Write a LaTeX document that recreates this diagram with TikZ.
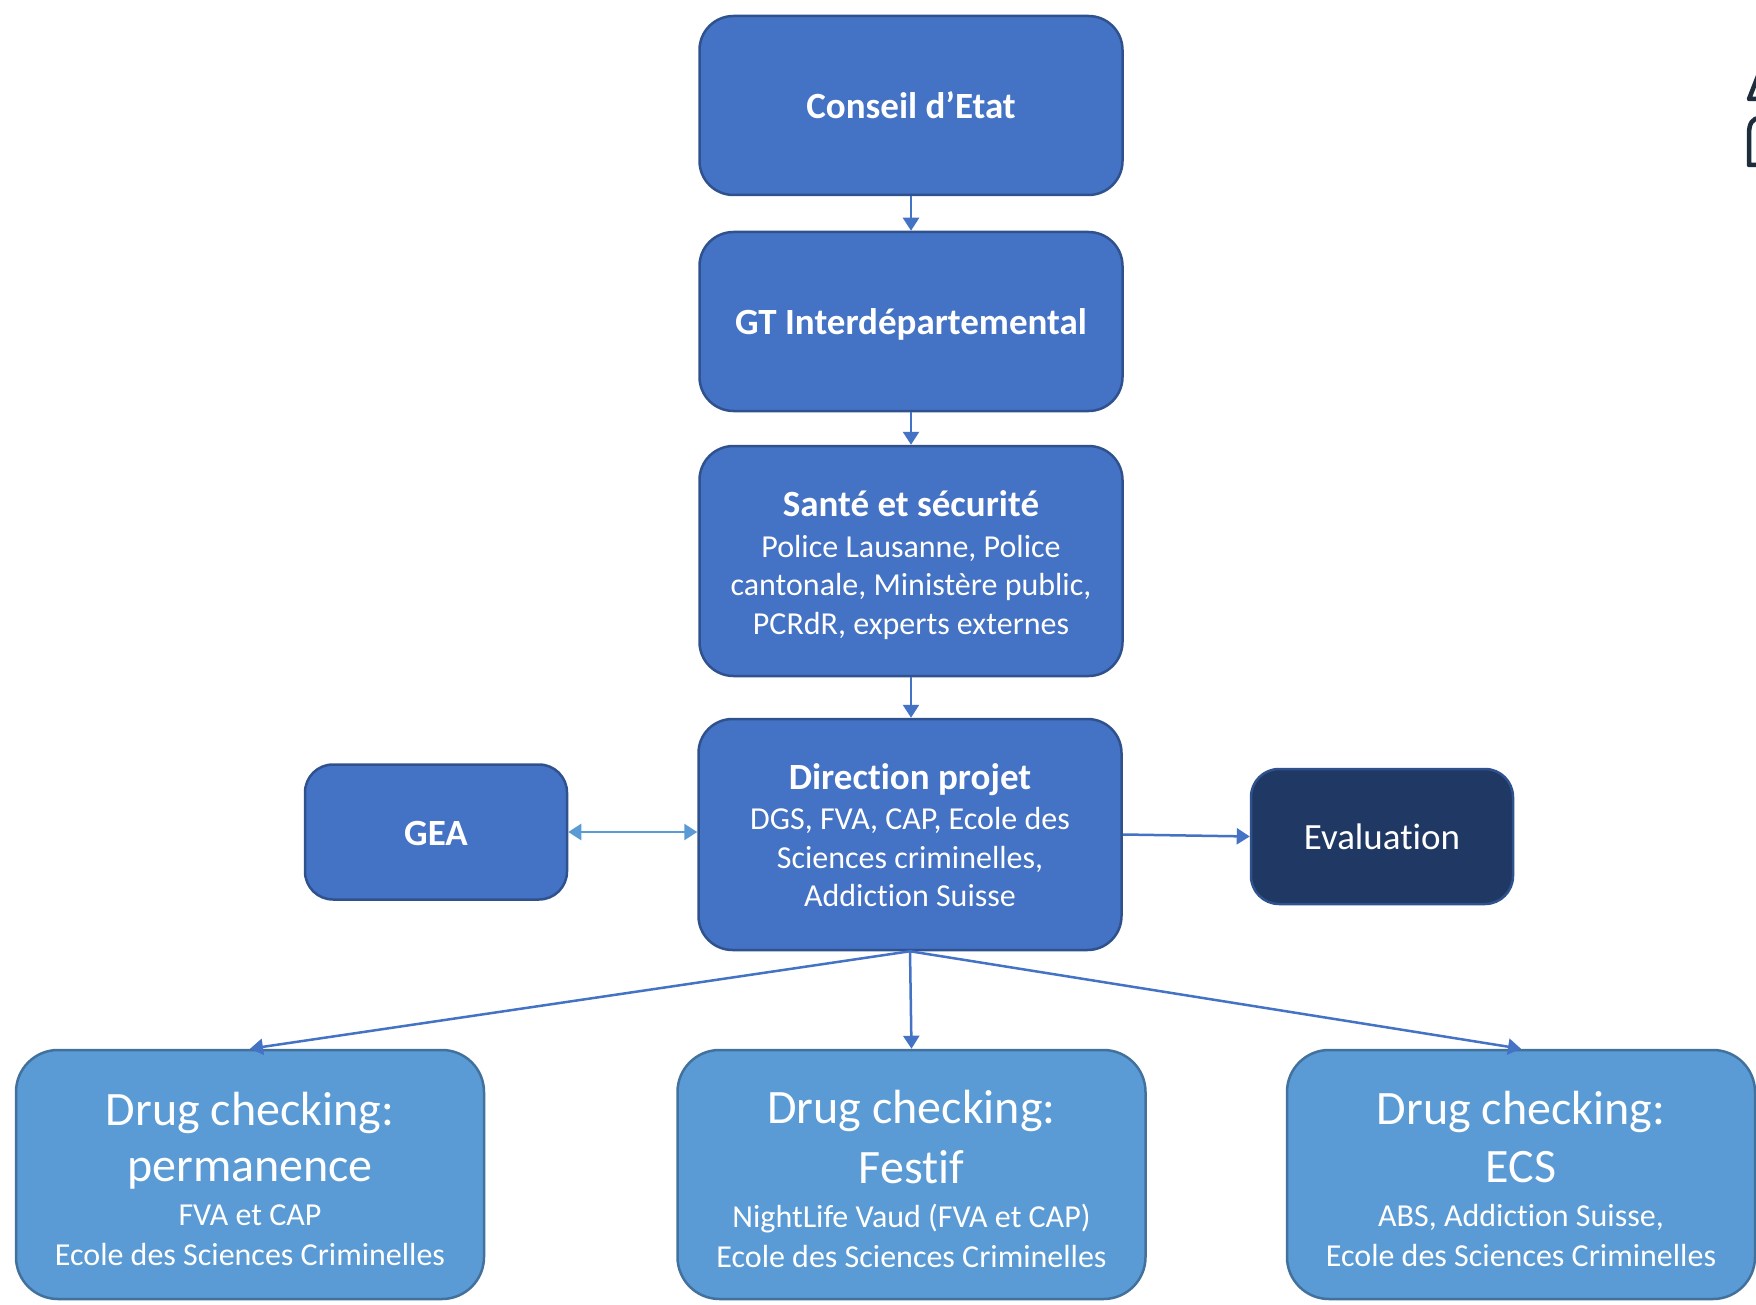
\documentclass[tikz,border=0pt]{standalone}
\usepackage{fontspec}
\setmainfont{Carlito}[Ligatures={NoCommon}]
\usetikzlibrary{arrows.meta}
\definecolor{accA}{HTML}{4472C4}
\definecolor{accAedge}{HTML}{2F528F}
\definecolor{navy}{HTML}{203864}
\definecolor{accB}{HTML}{5B9BD5}
\definecolor{accBedge}{HTML}{41719C}
\definecolor{glyph}{HTML}{1E2D3B}
\tikzset{
  basebox/.style={rectangle, draw=accAedge, line width=2.5pt, text=white, align=center, inner sep=0pt},
  topbox/.style={basebox, fill=accA, rounded corners=34pt, minimum width=423pt},
  sidebox/.style={basebox, rounded corners=28pt, minimum width=262pt, minimum height=135pt},
  drugbox/.style={basebox, fill=accB, draw=accBedge, rounded corners=42pt, minimum width=468pt, minimum height=249pt},
  oneline/.style={text height=26pt, text depth=0pt},
  conn/.style={draw=accA, line width=2.5pt, -{Triangle[length=13pt,width=16pt]}},
  dconn/.style={draw=accB, line width=2.5pt, {Triangle[length=13pt,width=16pt]}-{Triangle[length=13pt,width=16pt]}},
  big/.style={font=\bfseries\fontsize{37}{44}\selectfont},
}
\newcommand{\subsize}{\fontsize{32}{38.5}\selectfont}
\newcommand{\drugsize}{\fontsize{48}{56}\selectfont}
\newcommand{\ttl}[2]{{\bfseries\fontsize{37}{44}\selectfont\rule{0pt}{#1}#2}}
\newcommand{\drg}{\drugsize\rule{0pt}{42.5pt}Drug checking:}
\begin{document}
\begin{tikzpicture}[x=1pt,y=-1pt]
\useasboundingbox (0,0) rectangle (1756,1305);
\fill[white] (0,0) rectangle (1756,1305);

\node[topbox, minimum height=179pt, big, oneline] (ce) at (911,105.5) {Conseil d’Etat};
\node[topbox, minimum height=179pt, big, oneline] (gt) at (911,321.5) {GT Interdépartemental};
\node[topbox, minimum height=230pt, font=\subsize] (ss) at (911,561) {\ttl{34pt}{Santé et sécurité}\\[2pt]Police Lausanne, Police\\cantonale, Ministère public,\\PCRdR, experts externes};
\node[topbox, minimum height=231pt, font=\subsize] (dp) at (910,834.5) {\ttl{27.5pt}{Direction projet}\\[2pt]DGS, FVA, CAP, Ecole des\\Sciences criminelles,\\Addiction Suisse};
\node[sidebox, fill=accA, big, oneline] (gea) at (436,832) {GEA};
\node[sidebox, fill=navy, font=\fontsize{37}{44}\selectfont, oneline] (ev) at (1382,836.5) {Evaluation};

\node[drugbox, font=\subsize] (dl) at (250,1174.5) {{\drg}\\[17.4pt]{\drugsize permanence}\\[5.8pt]FVA et CAP\\[1pt]Ecole des Sciences Criminelles};
\node[drugbox, font=\subsize] (dm) at (911.5,1174.5) {{\drg}\\[17.4pt]{\drugsize Festif}\\[5.8pt]NightLife Vaud (FVA et CAP)\\[1pt]Ecole des Sciences Criminelles};
\node[drugbox, font=\subsize] (dr) at (1521,1174.5) {{\drg}\\[17.4pt]{\drugsize ECS}\\[5.8pt]ABS, Addiction Suisse,\\[1pt]Ecole des Sciences Criminelles};

\draw[conn] (ce.south) -- (gt.north);
\draw[conn] (gt.south) -- (ss.north);
\draw[conn] (ss.south) -- (ss.south |- dp.north);
\draw[dconn] (gea.east) -- (gea.east -| dp.west);
\draw[conn] (dp.east) -- (ev.west);
\draw[conn] (dp.south) -- (dl.north);
\draw[conn] (dp.south) -- (dm.north);
\draw[conn] (dp.south) -- (dr.north);

% cut-off glyphs at the right edge
\begin{scope}
\clip (1700,0) rectangle (1756,1305);
\draw[glyph, line width=4.5pt, line join=round] (1758,76) -- (1749,99) -- (1760,99);
\draw[glyph, line width=4.5pt, line join=round] (1760,118) .. controls (1752,118) and (1749,124) .. (1749,134) -- (1749,165) -- (1760,165);
\end{scope}
\end{tikzpicture}
\end{document}
